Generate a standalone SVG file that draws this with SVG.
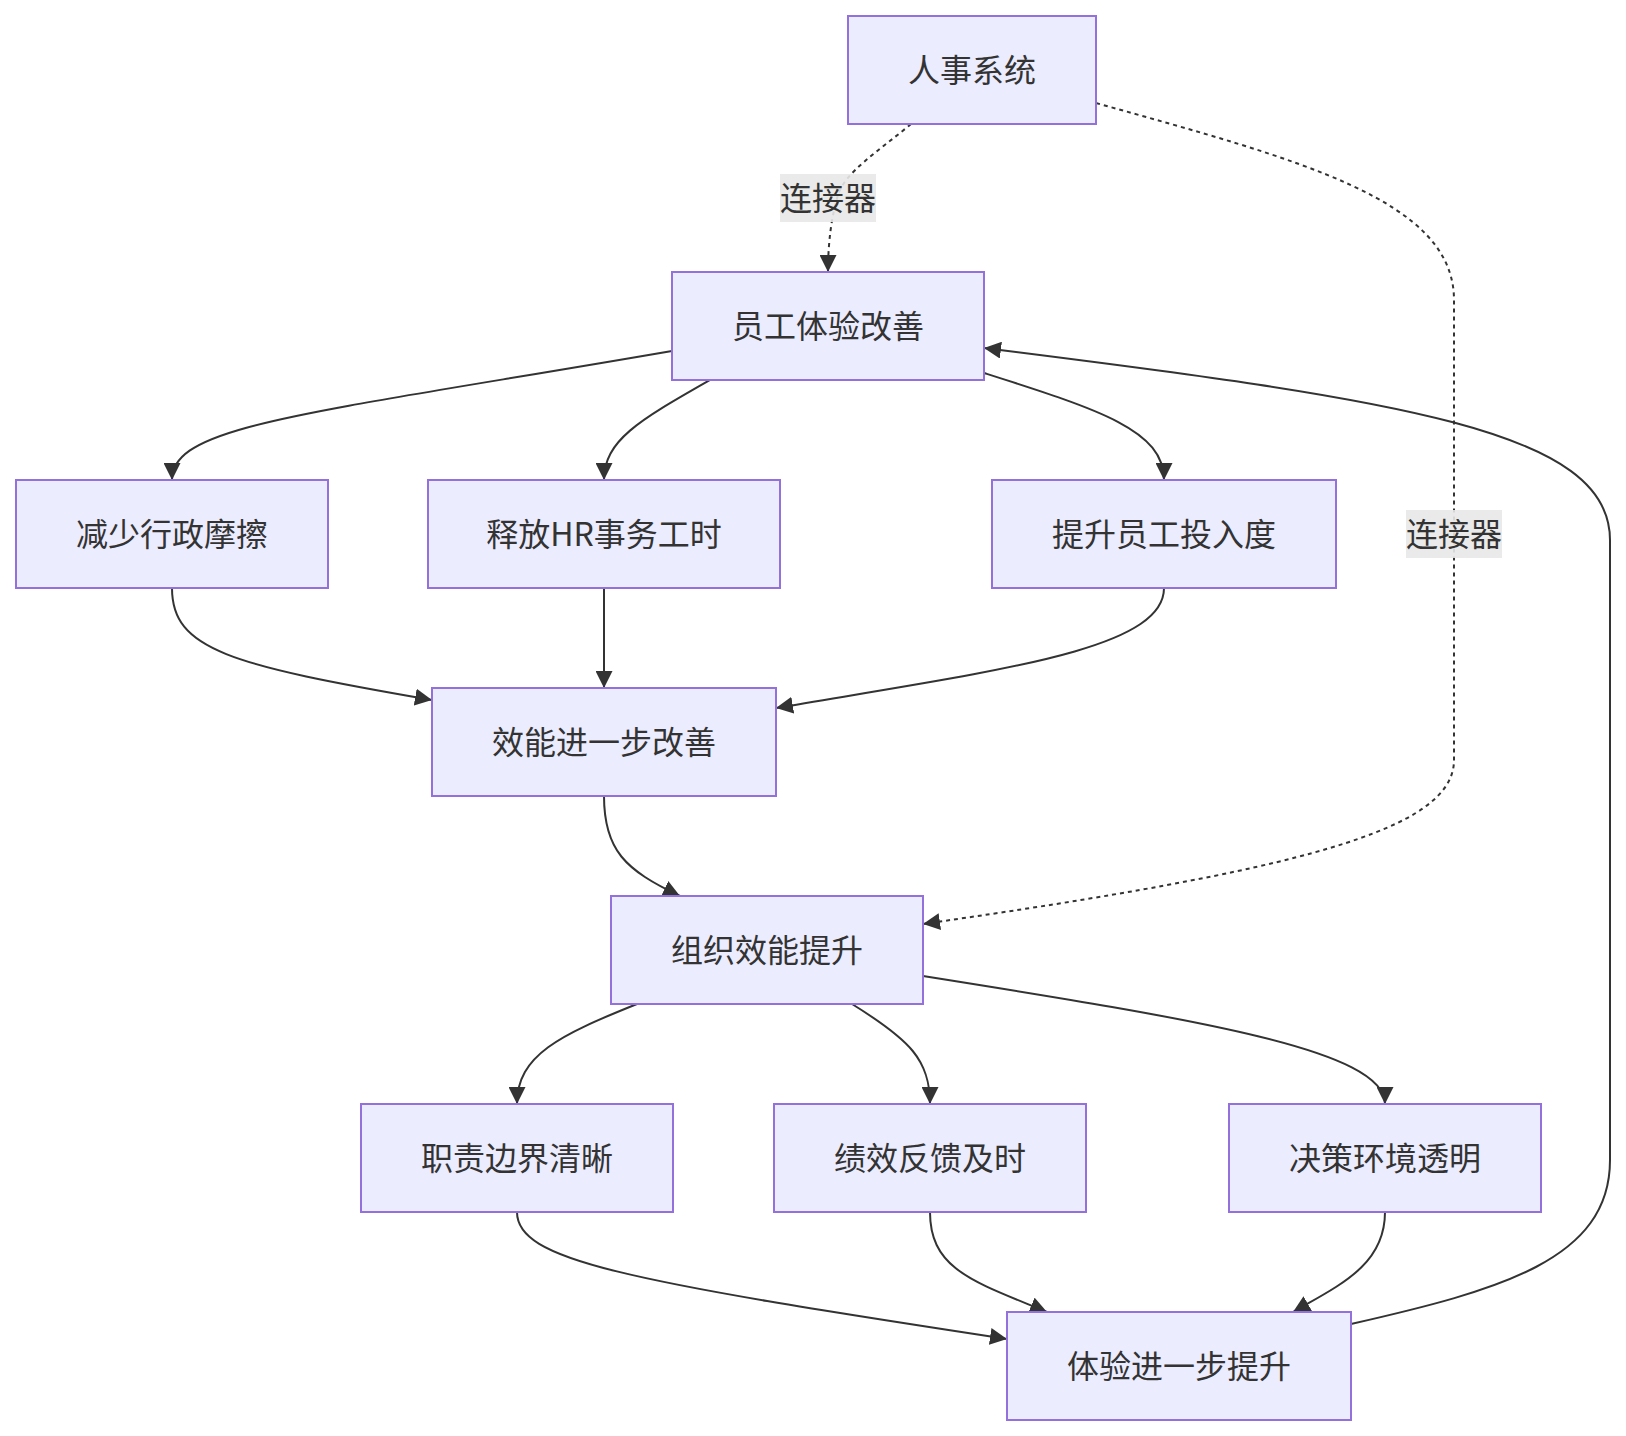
<svg xmlns="http://www.w3.org/2000/svg" width="1626" height="1436" viewBox="0 0 1626 1436">
<defs>
<marker id="arr" viewBox="0 0 10 10" refX="10" refY="5" markerWidth="17" markerHeight="17" markerUnits="userSpaceOnUse" orient="auto">
<path d="M0,0 L10,5 L0,10 z" fill="#333333"/>
</marker>
<style>
.node rect{fill:#ECECFF;stroke:#9370DB;stroke-width:2}
.node text,.lbl text{font-family:"Noto Sans CJK SC","Noto Sans",sans-serif;font-size:32px;fill:#333333;text-anchor:middle;dominant-baseline:central}
.edge{fill:none;stroke:#333333;stroke-width:2;marker-end:url(#arr)}
.dot{stroke-dasharray:4 4}
.lbl rect{fill:#e8e8e8;opacity:0.9}
</style>
</defs>
<rect width="1626" height="1436" fill="#ffffff"/>
<g id="connectors">
<path class="edge dot" d="M911,124 C880,150 845,172 838,195 C832,215 828,240 828,272"/>
<path class="edge dot" d="M1096,103 C1300,160 1454,200 1454,300 L1454,760 C1454,830 1300,870 923,924"/>
<path class="edge" d="M672,351 C300,415 172,425 172,480"/>
<path class="edge" d="M710,380 C640,420 604,440 604,480"/>
<path class="edge" d="M984,373 C1100,410 1164,430 1164,480"/>
<path class="edge" d="M1351,1324 C1500,1290 1610,1260 1610,1160 L1610,540 C1610,430 1400,400 984,348"/>
<path class="edge" d="M172,588 C172,650 230,665 432,700"/>
<path class="edge" d="M604,588 L604,688"/>
<path class="edge" d="M1164,588 C1164,650 1000,670 776,708"/>
<path class="edge" d="M604,796 C604,850 625,870 680,896"/>
<path class="edge" d="M637,1004 C560,1035 517,1055 517,1104"/>
<path class="edge" d="M852,1004 C910,1040 930,1060 930,1104"/>
<path class="edge" d="M923,976 C1200,1020 1385,1050 1385,1104"/>
<path class="edge" d="M517,1212 C517,1260 620,1280 1007,1339"/>
<path class="edge" d="M930,1212 C930,1270 975,1282 1047,1312"/>
<path class="edge" d="M1385,1212 C1385,1265 1340,1285 1293,1312"/>
<g class="lbl"><rect x="780" y="174" width="96" height="48"/><text x="828" y="196">连接器</text></g>
<g class="lbl"><rect x="1406" y="510" width="96" height="48"/><text x="1454" y="532">连接器</text></g>
</g>
<g id="A" class="node"><rect x="848" y="16" width="248" height="108"/><text x="972" y="68">人事系统</text></g>
<g id="B" class="node"><rect x="672" y="272" width="312" height="108"/><text x="828" y="324">员工体验改善</text></g>
<g id="C" class="node"><rect x="16" y="480" width="312" height="108"/><text x="172" y="532">减少行政摩擦</text></g>
<g id="D" class="node"><rect x="428" y="480" width="352" height="108"/><text x="604" y="532">释放HR事务工时</text></g>
<g id="E" class="node"><rect x="992" y="480" width="344" height="108"/><text x="1164" y="532">提升员工投入度</text></g>
<g id="F" class="node"><rect x="432" y="688" width="344" height="108"/><text x="604" y="740">效能进一步改善</text></g>
<g id="G" class="node"><rect x="611" y="896" width="312" height="108"/><text x="767" y="948">组织效能提升</text></g>
<g id="H" class="node"><rect x="361" y="1104" width="312" height="108"/><text x="517" y="1156">职责边界清晰</text></g>
<g id="I" class="node"><rect x="774" y="1104" width="312" height="108"/><text x="930" y="1156">绩效反馈及时</text></g>
<g id="J" class="node"><rect x="1229" y="1104" width="312" height="108"/><text x="1385" y="1156">决策环境透明</text></g>
<g id="K" class="node"><rect x="1007" y="1312" width="344" height="108"/><text x="1179" y="1364">体验进一步提升</text></g>
</svg>
